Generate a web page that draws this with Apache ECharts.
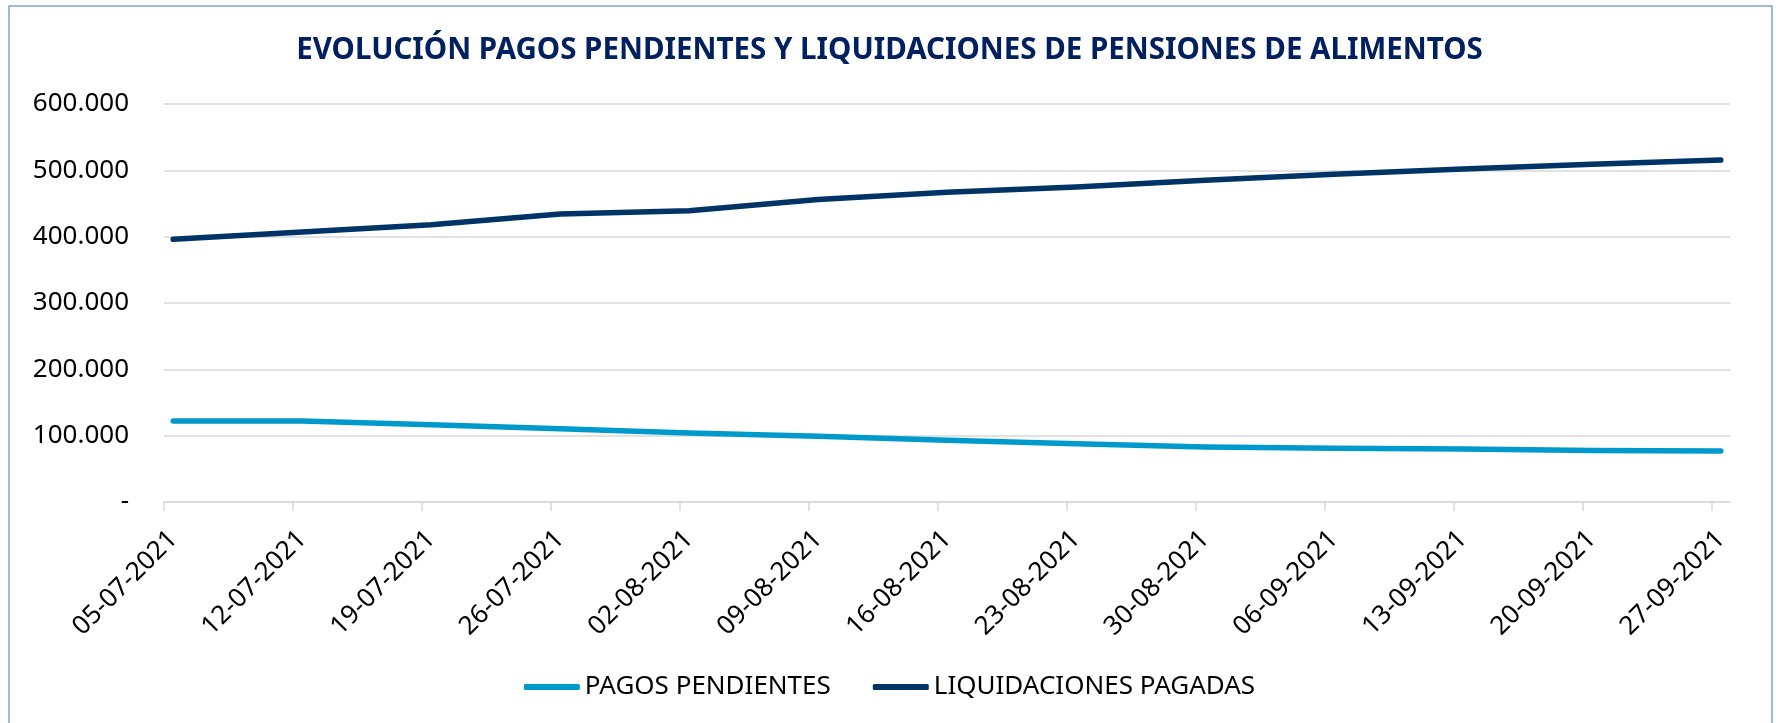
<!DOCTYPE html>
<html lang="es">
<head>
  <meta charset="UTF-8">
  <title>Evolución pagos pendientes y liquidaciones</title>
  <style>
    html, body { margin: 0; padding: 0; background: #fff; }
    #chart { width: 1779px; height: 723px; }
  </style>
</head>
<body>
  <div id="chart"></div>
  <script src="https://cdn.jsdelivr.net/npm/echarts@6/dist/echarts.min.js"></script>
  <script>
    // semanas (lunes) del eje X
    const fechas = [
      '05-07-2021', '12-07-2021', '19-07-2021', '26-07-2021', '02-08-2021',
      '09-08-2021', '16-08-2021', '23-08-2021', '30-08-2021', '06-09-2021',
      '13-09-2021', '20-09-2021', '27-09-2021'
    ];
    const pagosPendientes = [
      122000, 122000, 116500, 110500, 104000, 99000, 93000,
      88000, 83000, 81000, 80000, 77500, 77000
    ];
    const liquidacionesPagadas = [
      396000, 407000, 418000, 434000, 439000, 456000, 467000,
      475000, 485000, 494000, 502000, 509000, 515500
    ];

    const DAY = 86400000;
    const toTime = s => {
      const [d, m, y] = s.split('-').map(Number);
      return Date.UTC(y, m - 1, d);
    };
    // x axis counted in days from the first date (Excel-style date axis)
    const dias = fechas.map(s => (toTime(s) - toTime(fechas[0])) / DAY);
    // each point sits in the middle of its day
    const centros = dias.map(d => d + 0.5);
    const labelFor = v => {
      const i = dias.indexOf(Math.round(v - 0.5));
      return i >= 0 ? fechas[i] : '';
    };

    const fmtMiles = v => v === 0 ? '-' : String(v).replace(/\B(?=(\d{3})+(?!\d))/g, '.');

    const font = '"Noto Sans", "Open Sans", sans-serif';
    const chart = echarts.init(document.getElementById('chart'));
    chart.setOption({
      backgroundColor: '#fff',
      animation: false,
      graphic: [{
        type: 'rect',
        shape: { x: 9, y: 6, width: 1763, height: 760 },
        style: { fill: 'none', stroke: '#7fa3d9', lineWidth: 1.5 },
        silent: true
      }],
      title: {
        text: 'EVOLUCIÓN PAGOS PENDIENTES Y LIQUIDACIONES DE PENSIONES DE ALIMENTOS',
        left: 'center',
        top: 31,
        textStyle: { fontFamily: font, fontWeight: 'bold', fontSize: 29.5, color: '#002060' }
      },
      legend: {
        top: 669,
        left: 'center',
        icon: 'roundRect',
        itemWidth: 56,
        itemHeight: 6,
        itemGap: 42,
        textStyle: { fontFamily: font, fontSize: 26, color: '#000' },
        data: ['PAGOS PENDIENTES', 'LIQUIDACIONES PAGADAS']
      },
      grid: { left: 164, right: 49, top: 104, bottom: 221 },
      xAxis: {
        type: 'value',
        min: 0,
        max: dias[dias.length - 1] + 1,
        axisLine: { show: true, onZero: false, lineStyle: { color: '#d9d9d9', width: 1.5 } },
        axisTick: { show: true, length: 9, customValues: dias, lineStyle: { color: '#d9d9d9', width: 1.5 } },
        splitLine: { show: false },
        axisLabel: {
          customValues: centros,
          rotate: 45,
          margin: 33,
          fontFamily: font,
          fontSize: 26,
          color: '#000',
          formatter: labelFor
        }
      },
      yAxis: {
        type: 'value',
        min: 0,
        max: 600000,
        interval: 100000,
        axisLine: { show: false },
        axisTick: { show: false },
        splitLine: { lineStyle: { color: '#d9d9d9', width: 1.5 } },
        axisLabel: {
          margin: 35,
          fontFamily: font,
          fontSize: 26,
          color: '#000',
          formatter: fmtMiles
        }
      },
      series: [
        {
          name: 'PAGOS PENDIENTES',
          type: 'line',
          showSymbol: false,
          symbol: 'none',
          data: centros.map((x, i) => [x, pagosPendientes[i]]),
          itemStyle: { color: '#0099cc' },
          lineStyle: { color: '#0099cc', width: 5.5, cap: 'round', join: 'round' }
        },
        {
          name: 'LIQUIDACIONES PAGADAS',
          type: 'line',
          showSymbol: false,
          symbol: 'none',
          data: centros.map((x, i) => [x, liquidacionesPagadas[i]]),
          itemStyle: { color: '#003366' },
          lineStyle: { color: '#003366', width: 5.5, cap: 'round', join: 'round' }
        }
      ]
    });
  </script>
</body>
</html>
